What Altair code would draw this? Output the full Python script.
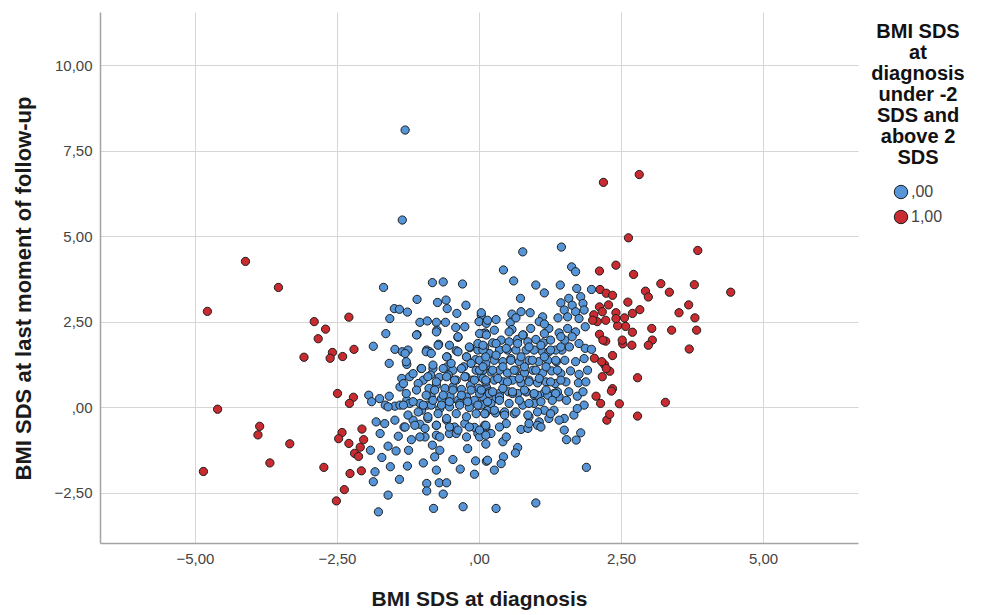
import altair as alt
import pandas as pd

# ---- data (x = BMI SDS at diagnosis, y = BMI SDS at last follow-up)
blue_outliers = [(-1.30, 8.10), (-1.35, 5.47), (1.45, 4.68)]

blue_upper_left = [
    (-1.68, 3.50), (-0.82, 3.64), (-0.63, 3.66), (-0.29, 3.60), (-1.09, 3.15), (-0.73, 3.06),
    (-0.58, 3.13), (-0.23, 2.98), (-1.49, 2.88), (-1.40, 2.86), (-1.26, 2.78), (-0.56, 2.88),
    (-0.39, 2.74), (0.04, 2.69), (-1.57, 2.59), (-1.04, 2.48), (-0.91, 2.52), (-0.75, 2.48),
    (-0.59, 2.48), (0.00, 2.50), (0.13, 2.45), (-0.74, 2.25), (-0.41, 2.33), (-0.25, 2.35),
    (-1.64, 2.15), (-1.09, 2.12), (0.11, 2.17), (-0.37, 2.04), (-1.86, 1.78), (-1.48, 1.69),
    (-1.35, 1.62), (-1.25, 1.67), (-0.92, 1.67), (-0.71, 1.84), (-0.87, 1.62), (-0.40, 1.65),
    (-0.16, 1.74), (-0.02, 1.67), (-0.22, 1.47), (-0.06, 1.39), (0.13, 1.52), (-1.58, 1.28),
    (-1.27, 1.25), (-1.02, 1.13), (-0.56, 1.47), (-0.81, 1.13), (-0.56, 1.18), (-0.46, 1.08),
    (-0.27, 1.18), (-0.05, 1.08), (0.12, 1.18), (-1.36, 0.84), (-1.22, 0.89), (-0.98, 0.79),
    (-0.85, 0.94), (-0.70, 0.87), (-0.54, 0.94), (-0.40, 0.79), (-0.23, 0.89), (-0.11, 0.79),
    (0.04, 0.89), (-1.39, 0.59), (-0.88, 0.55), (-0.75, 0.64), (-0.60, 0.55), (-0.46, 0.59),
    (-0.31, 0.52), (-0.15, 0.64), (0.00, 0.55), (0.13, 0.59), (-1.94, 0.35), (-1.75, 0.25),
    (-1.58, 0.32), (-1.27, 0.20), (-0.84, 0.30), (-0.66, 0.25), (-0.51, 0.32), (-0.37, 0.20),
    (-0.22, 0.30), (-0.08, 0.20), (0.07, 0.30), (-1.65, 0.06), (-1.48, 0.03), (-1.04, 0.11),
    (-0.91, 0.06),
]

blue_lower_left = [
    (-1.89, 0.16), (-1.60, 0.01), (-1.39, 0.06), (-1.22, 0.11), (-1.01, -0.09), (-0.84, 0.06),
    (-0.69, -0.04), (-0.52, 0.01), (-0.34, 0.11), (-0.17, -0.01), (0.01, 0.06), (0.16, -0.09),
    (-1.81, -0.43), (-1.66, -0.48), (-1.48, -0.38), (-1.32, -0.58), (-1.16, -0.38), (-1.04, -0.50),
    (-0.90, -0.33), (-0.75, -0.53), (-0.57, -0.38), (-0.43, -0.58), (-0.25, -0.48), (-0.08, -0.59),
    (0.10, -0.53), (-1.74, -0.77), (-1.42, -0.85), (-1.19, -0.95), (-0.95, -0.87), (-0.75, -0.82),
    (-0.52, -0.77), (-0.40, -0.77), (-0.02, -0.77), (0.16, -0.77), (-1.91, -1.26), (-1.60, -1.14),
    (-1.46, -1.28), (-1.24, -1.26), (-0.82, -1.11), (-0.69, -1.26), (-0.20, -1.21), (-1.71, -1.47),
    (-0.98, -1.63), (-0.78, -1.45), (-0.46, -1.53), (-0.06, -1.57), (0.13, -1.58), (-1.56, -1.74),
    (-1.26, -1.72), (-0.75, -1.84), (-0.33, -1.81), (-1.83, -1.89), (-1.40, -2.11), (-0.08, -1.96),
    (-1.86, -2.18), (-0.92, -2.23), (-0.70, -2.21), (-0.57, -2.21), (-0.92, -2.45), (-0.63, -2.54),
    (-1.60, -2.57), (-1.77, -3.06), (-0.80, -2.96), (-0.28, -2.91),
]

blue_upper_right = [
    (0.77, 4.54), (0.43, 4.01), (0.61, 3.69), (1.63, 4.10), (1.70, 3.96), (1.00, 3.57),
    (1.15, 3.34), (1.43, 3.57), (0.73, 3.18), (1.72, 3.47), (1.98, 3.44), (1.58, 3.18),
    (1.79, 3.23), (1.44, 3.05), (1.64, 2.98), (1.83, 3.03), (1.50, 2.84), (1.70, 2.79),
    (1.85, 2.84), (1.39, 2.61), (1.56, 2.64), (1.76, 2.59), (1.87, 2.35), (0.74, 2.79),
    (0.90, 2.76), (0.58, 2.72), (1.12, 2.64), (1.06, 2.50), (1.23, 2.30), (1.15, 2.43),
    (0.04, 2.76), (0.15, 2.54), (0.30, 2.56), (0.55, 2.47), (0.65, 2.61), (0.78, 2.11),
    (0.91, 2.30), (0.27, 2.25), (0.58, 2.27), (0.07, 2.15), (1.41, 2.17), (1.56, 2.30),
    (1.70, 2.20), (1.51, 1.96), (1.64, 2.06), (1.76, 1.86), (1.87, 1.72), (1.98, 1.69),
    (1.46, 1.67), (1.59, 1.76), (1.35, 1.67), (0.24, 1.88), (0.39, 1.96), (0.53, 1.91),
    (0.68, 1.98), (0.86, 1.91), (1.00, 1.98), (1.13, 1.88), (1.26, 1.96), (0.10, 1.76),
    (0.18, 1.57), (0.36, 1.67), (0.50, 1.67), (0.65, 1.67), (0.83, 1.67), (0.97, 1.67),
    (1.12, 1.62), (1.23, 1.62), (0.01, 1.37), (0.12, 1.28), (0.27, 1.37), (0.42, 1.33),
    (0.56, 1.42), (0.71, 1.33), (0.88, 1.37), (1.05, 1.33), (1.21, 1.37), (1.36, 1.33),
    (1.51, 1.37), (1.70, 1.33), (1.85, 1.42), (0.07, 1.08), (0.21, 1.03), (0.36, 1.08),
    (0.50, 1.00), (0.65, 1.08), (0.80, 1.00), (0.95, 1.08), (1.12, 1.00), (1.28, 1.06),
    (1.44, 0.98), (1.61, 1.06), (1.76, 0.96), (1.91, 1.08), (0.12, 0.74), (0.27, 0.79),
    (0.43, 0.74), (0.59, 0.79), (0.74, 0.71), (0.88, 0.79), (1.03, 0.71), (1.18, 0.74),
    (1.34, 0.69), (1.53, 0.74), (1.75, 0.71), (1.88, 0.74), (0.18, 0.45), (0.36, 0.40),
    (0.52, 0.45), (0.68, 0.40), (0.83, 0.45), (0.97, 0.35), (1.15, 0.42), (1.32, 0.40),
    (1.58, 0.45), (1.73, 0.32), (1.41, 0.30), (0.30, 0.25),
]

blue_lower_right = [
    (0.18, 0.40), (0.36, 0.30), (0.59, 0.40), (0.83, 0.45), (1.03, 0.35), (1.21, 0.35),
    (1.38, 0.45), (1.54, 0.20), (1.83, 0.45), (0.04, 0.06), (0.21, 0.11), (0.45, -0.14),
    (0.62, -0.19), (0.77, 0.06), (0.97, 0.11), (1.15, -0.09), (1.32, -0.09), (1.50, -0.33),
    (1.67, -0.23), (1.85, 0.06), (1.73, -0.04), (0.11, -0.19), (0.29, -0.17), (0.88, -0.28),
    (1.06, -0.43), (1.23, -0.33), (0.48, -0.48), (0.74, -0.65), (0.86, -0.62), (1.03, -0.53),
    (1.50, -0.67), (1.79, -0.75), (1.54, -0.95), (1.71, -0.96), (0.12, -0.58), (0.21, -0.77),
    (0.01, -0.87), (0.12, -1.08), (0.42, -1.01), (0.68, -1.18), (0.64, -1.34), (0.15, -1.55),
    (0.43, -1.45), (0.39, -1.65), (0.27, -1.84), (1.89, -1.76), (1.00, -2.80), (0.30, -2.96),
]

blue_core_left = [
    (-1.10, 2.11), (-0.75, 2.20), (-0.37, 2.06), (0.01, 2.15), (-0.93, 1.62), (-0.72, 1.81),
    (-0.52, 1.81), (-0.17, 1.76), (-0.02, 1.86), (-1.28, 1.33), (-1.30, 1.57), (-0.84, 1.57),
    (-0.57, 1.47), (-0.37, 1.62), (-0.22, 1.47), (0.07, 1.67), (-1.16, 0.98), (-1.01, 1.13),
    (-0.81, 1.23), (-0.63, 1.13), (-0.49, 1.28), (-0.31, 1.13), (-0.14, 1.28), (0.01, 1.08),
    (-1.33, 0.69), (-1.07, 0.69), (-0.90, 0.89), (-0.75, 0.74), (-0.57, 0.89), (-0.43, 0.79),
    (-0.25, 0.89), (-0.08, 0.79), (0.07, 0.84), (-1.28, 0.40), (-1.10, 0.50), (-0.93, 0.35),
    (-0.78, 0.50), (-0.63, 0.35), (-0.46, 0.50), (-0.31, 0.35), (-0.14, 0.50), (0.01, 0.40),
    (-1.33, 0.06), (-1.16, 0.16), (-0.98, 0.06), (-0.81, 0.20), (-0.66, 0.06), (-0.52, 0.16),
    (-0.34, 0.06), (-0.20, 0.16), (-0.02, 0.06), (-1.25, -0.23), (-1.07, -0.14), (-0.90, -0.28),
    (-0.72, -0.19), (-0.57, -0.33), (-0.40, -0.19), (-0.22, -0.28), (-0.05, -0.19), (-1.30, -0.58),
    (-1.13, -0.53), (-0.95, -0.62), (-0.75, -0.53), (-0.52, -0.58), (-0.37, -0.67), (-0.17, -0.58),
    (0.01, -0.67), (-1.04, -0.87), (-0.69, -0.87), (-0.22, -0.87),
]

blue_core_right = [
    (0.13, 2.11), (0.53, 2.20), (0.77, 2.11), (1.15, 2.15), (1.44, 2.06), (0.07, 1.81),
    (0.30, 1.86), (0.48, 1.72), (0.68, 1.86), (0.88, 1.76), (1.09, 1.81), (1.26, 1.67),
    (1.44, 1.76), (0.12, 1.47), (0.30, 1.52), (0.56, 1.37), (0.74, 1.47), (0.94, 1.37),
    (1.15, 1.47), (1.35, 1.37), (0.07, 1.18), (0.24, 1.08), (0.42, 1.18), (0.62, 1.08),
    (0.80, 1.18), (1.00, 1.08), (1.18, 1.18), (1.38, 1.08), (0.12, 0.79), (0.33, 0.84),
    (0.50, 0.74), (0.71, 0.84), (0.88, 0.74), (1.06, 0.84), (1.26, 0.74), (1.44, 0.79),
    (0.04, 0.50), (0.24, 0.45), (0.42, 0.55), (0.59, 0.45), (0.80, 0.50), (0.97, 0.40),
    (1.18, 0.50), (1.35, 0.40), (0.15, 0.16), (0.36, 0.20), (0.53, 0.11), (0.71, 0.20),
    (0.88, 0.11), (1.09, 0.16), (1.29, 0.20), (0.10, -0.19), (0.27, -0.09), (0.45, -0.23),
    (0.65, -0.14), (0.86, -0.23), (1.03, -0.14), (1.26, -0.19), (0.12, -0.53), (0.36, -0.58),
    (0.88, -0.48), (1.09, -0.58), (1.41, -0.38), (0.12, -0.82), (0.48, -0.87),
]

red_left = [
    (-4.11, 4.26), (-3.53, 3.50), (-4.78, 2.80), (-2.90, 2.50), (-2.70, 2.28), (-2.83, 2.00),
    (-2.29, 2.63), (-2.58, 1.60), (-2.62, 1.43), (-2.40, 1.48), (-2.20, 1.69), (-3.08, 1.46),
    (-2.49, 0.40), (-2.21, 0.29), (-2.28, 0.11), (-4.60, -0.06), (-3.86, -0.56), (-3.89, -0.81),
    (-3.33, -1.07), (-3.68, -1.63), (-4.85, -1.88), (-2.73, -1.76), (-2.41, -0.74), (-2.47, -0.92),
    (-2.29, -1.06), (-2.06, -0.64), (-2.03, -0.95), (-2.09, -1.17), (-2.19, -1.35), (-2.12, -1.44),
    (-2.27, -1.94), (-2.07, -1.86), (-2.37, -2.41), (-2.51, -2.74),
]

red_right = [
    (2.19, 6.57), (2.82, 6.80), (2.63, 4.95), (3.85, 4.58), (2.41, 4.15), (2.12, 3.98),
    (2.72, 3.88), (3.20, 3.61), (3.79, 3.58), (4.43, 3.36), (3.35, 3.36), (2.93, 3.39),
    (2.98, 3.22), (2.13, 3.44), (2.24, 3.33), (2.35, 3.27), (2.62, 3.07), (2.83, 2.85),
    (2.70, 2.74), (3.69, 2.99), (3.52, 2.76), (3.80, 2.61), (3.83, 2.25), (3.39, 2.25),
    (3.04, 2.30), (3.05, 1.96), (2.98, 1.81), (2.70, 2.19), (2.58, 2.36), (2.44, 2.38),
    (2.53, 1.85), (2.69, 1.81), (3.70, 1.70), (2.35, 1.51), (2.79, 0.86), (3.28, 0.14),
    (2.79, -0.26), (2.47, 0.10), (2.25, -0.38), (2.30, -0.21), (2.35, 0.54), (2.30, 1.05),
    (2.21, 1.24), (2.03, 1.43), (2.12, 2.13), (2.23, 1.93), (2.02, 2.70), (2.12, 2.93),
    (2.28, 2.99), (2.41, 2.76), (2.56, 2.61), (2.17, 2.79), (2.08, 2.50), (2.23, 2.54),
    (2.41, 2.59), (2.00, 2.54), (2.52, 1.96), (2.16, 1.33), (2.24, 1.13), (2.17, 0.89),
    (2.06, 0.32), (2.14, 0.11), (2.33, 0.47), (2.18, 1.96),
]

groups = [",00", "1,00"]
colors = ["#5595d8", "#c92b30"]

rows = []
for pts in [blue_outliers, blue_upper_left, blue_lower_left, blue_upper_right,
            blue_lower_right, blue_core_left, blue_core_right]:
    for x, y in pts:
        rows.append({"x": x, "y": y, "g": groups[0]})
for pts in [red_left, red_right]:
    for x, y in pts:
        rows.append({"x": x, "y": y, "g": groups[1]})
df = pd.DataFrame(rows)

fmt = "datum.value == 0 ? ',00' : replace(format(datum.value, '.2f'), '.', ',')"
FONT = "Liberation Sans"

chart = (
    alt.Chart(df)
    .mark_circle(size=68, opacity=1, stroke="#1e1e1e", strokeWidth=1)
    .encode(
        x=alt.X(
            "x:Q",
            scale=alt.Scale(domain=[-6.67, 6.67], nice=False, zero=False),
            axis=alt.Axis(
                values=[-5, -2.5, 0, 2.5, 5], labelExpr=fmt, ticks=False,
                title="BMI SDS at diagnosis", titleX=379, titleY=56,
                titleBaseline="middle", titleAlign="center", labelPadding=8,
                titleFontSize=21,
            ),
        ),
        y=alt.Y(
            "y:Q",
            scale=alt.Scale(domain=[-3.97, 11.55], nice=False, zero=False),
            axis=alt.Axis(
                values=[-2.5, 0, 2.5, 5, 7.5, 10], labelExpr=fmt, ticks=False,
                title="BMI SDS at last moment of follow-up", titleX=-77, titleY=276,
                titleBaseline="middle", titleAlign="center", labelPadding=8,
                titleFontSize=22,
            ),
        ),
        color=alt.Color(
            "g:N",
            scale=alt.Scale(domain=groups, range=colors),
            legend=alt.Legend(
                title=["BMI SDS", "at", "diagnosis", "under -2", "SDS and", "above 2", "SDS"],
                orient="none", legendX=771, legendY=10,
                titleAnchor="middle", titleAlign="center",
            ),
        ),
    )
    .properties(
        width=758, height=531,
        autosize=alt.AutoSizeParams(type="none"),
        padding={"left": 92, "top": 4, "right": 120, "bottom": 72},
    )
    .configure_view(strokeWidth=0)
    .configure_axis(
        labelFont=FONT, labelFontSize=15, labelColor="#444444",
        titleFont=FONT, titleFontWeight="bold", titleColor="#1a1a1a",
        gridColor="#d6d6d6", gridWidth=1, domainColor="#a3a3a3", domainWidth=1.5,
    )
    .configure_legend(
        titleFont=FONT, titleFontSize=20, titleFontWeight="bold", titleColor="#111111",
        titleLineHeight=21, titlePadding=16, titleLimit=300,
        labelFont=FONT, labelFontSize=16, labelColor="#444444",
        symbolSize=180, symbolStrokeColor="#1e1e1e", symbolStrokeWidth=1,
        symbolType="circle", rowPadding=7, labelOffset=2,
    )
)

chart.save("out.html", embed_options={"renderer": "svg", "actions": False})
